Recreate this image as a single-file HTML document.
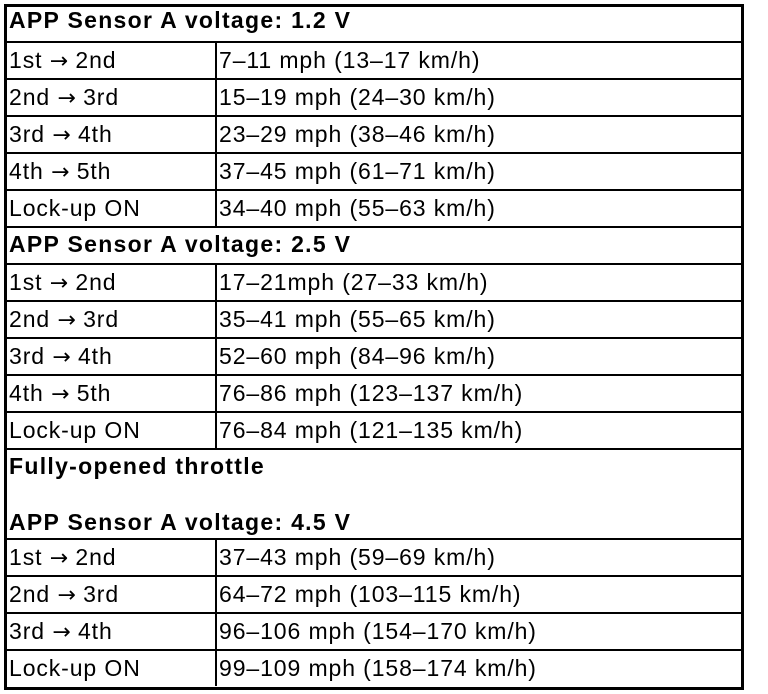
<!DOCTYPE html>
<html><head><meta charset="utf-8"><style>
body{margin:0;background:#fff;width:768px;height:694px;position:relative;overflow:hidden;font-family:"Liberation Sans",Arial,sans-serif;color:#000}
.b{position:absolute;left:4px;top:4px;width:734px;height:680px;border:3px solid #000}
.h{position:absolute;left:7px;width:734px;height:2px;background:#000}
.v{position:absolute;left:215px;width:2px;background:#000}
.t{position:absolute;font-size:23px;line-height:23px;white-space:nowrap;letter-spacing:0.9px}
.bo{font-weight:bold;letter-spacing:1.3px}
.a{font-family:"DejaVu Sans",sans-serif;font-size:22px;letter-spacing:0}
</style></head><body>
<div class="b"></div>
<div class="h" style="top:41px"></div>
<div class="h" style="top:78px"></div>
<div class="h" style="top:115px"></div>
<div class="h" style="top:152px"></div>
<div class="h" style="top:189px"></div>
<div class="h" style="top:226px"></div>
<div class="h" style="top:263px"></div>
<div class="h" style="top:300px"></div>
<div class="h" style="top:337px"></div>
<div class="h" style="top:374px"></div>
<div class="h" style="top:411px"></div>
<div class="h" style="top:448px"></div>
<div class="h" style="top:538px"></div>
<div class="h" style="top:575px"></div>
<div class="h" style="top:612px"></div>
<div class="h" style="top:649px"></div>
<div class="v" style="top:41px;height:187px"></div>
<div class="v" style="top:263px;height:187px"></div>
<div class="v" style="top:538px;height:148px"></div>

<div class="t bo" style="left:9px;top:9px">APP Sensor A voltage: 1.2 V</div>
<div class="t" style="left:9px;top:49px">1st <span class="a">→</span> 2nd</div><div class="t" style="left:219px;top:49px">7–11 mph (13–17 km/h)</div>
<div class="t" style="left:9px;top:86px">2nd <span class="a">→</span> 3rd</div><div class="t" style="left:219px;top:86px">15–19 mph (24–30 km/h)</div>
<div class="t" style="left:9px;top:123px">3rd <span class="a">→</span> 4th</div><div class="t" style="left:219px;top:123px">23–29 mph (38–46 km/h)</div>
<div class="t" style="left:9px;top:160px">4th <span class="a">→</span> 5th</div><div class="t" style="left:219px;top:160px">37–45 mph (61–71 km/h)</div>
<div class="t" style="left:9px;top:197px">Lock-up ON</div><div class="t" style="left:219px;top:197px">34–40 mph (55–63 km/h)</div>
<div class="t bo" style="left:9px;top:233px">APP Sensor A voltage: 2.5 V</div>
<div class="t" style="left:9px;top:271px">1st <span class="a">→</span> 2nd</div><div class="t" style="left:219px;top:271px">17–21mph (27–33 km/h)</div>
<div class="t" style="left:9px;top:308px">2nd <span class="a">→</span> 3rd</div><div class="t" style="left:219px;top:308px">35–41 mph (55–65 km/h)</div>
<div class="t" style="left:9px;top:345px">3rd <span class="a">→</span> 4th</div><div class="t" style="left:219px;top:345px">52–60 mph (84–96 km/h)</div>
<div class="t" style="left:9px;top:382px">4th <span class="a">→</span> 5th</div><div class="t" style="left:219px;top:382px">76–86 mph (123–137 km/h)</div>
<div class="t" style="left:9px;top:419px">Lock-up ON</div><div class="t" style="left:219px;top:419px">76–84 mph (121–135 km/h)</div>
<div class="t bo" style="left:9px;top:455px">Fully-opened throttle</div>
<div class="t bo" style="left:9px;top:511px">APP Sensor A voltage: 4.5 V</div>
<div class="t" style="left:9px;top:546px">1st <span class="a">→</span> 2nd</div><div class="t" style="left:219px;top:546px">37–43 mph (59–69 km/h)</div>
<div class="t" style="left:9px;top:583px">2nd <span class="a">→</span> 3rd</div><div class="t" style="left:219px;top:583px">64–72 mph (103–115 km/h)</div>
<div class="t" style="left:9px;top:620px">3rd <span class="a">→</span> 4th</div><div class="t" style="left:219px;top:620px">96–106 mph (154–170 km/h)</div>
<div class="t" style="left:9px;top:657px">Lock-up ON</div><div class="t" style="left:219px;top:657px">99–109 mph (158–174 km/h)</div>
</body></html>
